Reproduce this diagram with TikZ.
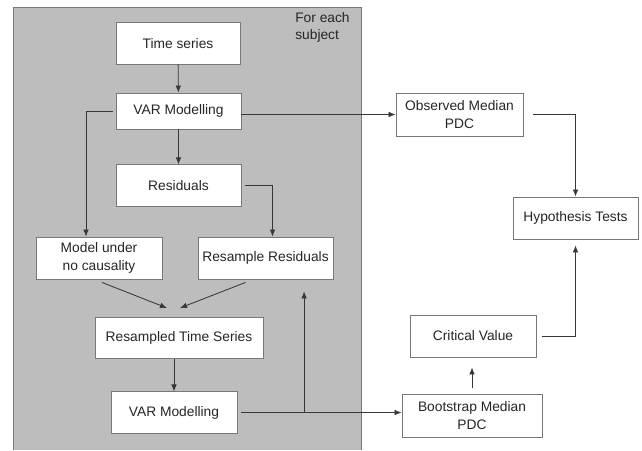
\documentclass[tikz,border=0pt]{standalone}
\usepackage{fontspec}
\setmainfont{Liberation Sans}
\usepackage{tikz}
\usetikzlibrary{arrows.meta,positioning,calc}

\definecolor{panelgray}{RGB}{189,189,189}
\definecolor{boxline}{RGB}{120,120,120}
\definecolor{flowline}{RGB}{55,55,55}

\tikzset{
    block/.style={draw=boxline, fill=white, line width=0.6pt, align=center,
        text=black!85, minimum height=1.03cm, inner sep=2pt,
        font=\fontsize{9.8}{12.4}\selectfont},
    flow/.style={draw=flowline, line width=0.6pt, -{Latex[length=5pt,width=4pt]}}
}

\begin{document}
\begin{tikzpicture}[x=0.025cm,y=-0.025cm]
        \useasboundingbox (0,0) rectangle (642,450);

        %%% Grey panel
        \fill[panelgray] (13,7) rectangle (361,450);
        \draw[boxline, line width=0.6pt] (13,450) -- (13,7) -- (361,7) -- (361,450);
        \node[anchor=north west, align=left, inner sep=0pt, text=black!85,
              font=\fontsize{9.8}{12.4}\selectfont] (forlabel) at (295,12) {For each\\subject};

        % Boxes inside the panel
        \node[block, minimum width=3.1cm] (series) at (178,43.5) {Time series};
        \node[block, minimum width=3.125cm, minimum height=0.9cm] (var1) at (178.5,111) {VAR Modelling};
        \node[block, minimum width=3.125cm] (resid) at (178.5,185.5) {Residuals};
        \node[block, minimum width=3.15cm, minimum height=1.05cm] (nocaus) at (99,258) {Model under\\no causality};
        \node[block, minimum width=3.375cm, minimum height=1.05cm] (resamp) at (265.5,258) {Resample Residuals};
        \node[block, minimum width=4.2cm] (rseries) at (179,338) {Resampled Time Series};
        \node[block, minimum width=3.15cm] (var2) at (174,412.5) {VAR Modelling};

        % Boxes outside the panel
        \node[block, minimum width=3.175cm, minimum height=1.075cm] (observed) at (459.5,114.5) {Observed Median\\PDC};
        \node[block, minimum width=3.125cm, minimum height=1.05cm] (hypo) at (575.5,218) {Hypothesis Tests};
        \node[block, minimum width=3.15cm, minimum height=1.05cm] (critical) at (473,336) {Critical Value};
        \node[block, minimum width=3.5cm, minimum height=1.075cm] (bootstrap) at (472,415.5) {Bootstrap Median\\PDC};

        % Helper points
        \coordinate (mergeL) at ($(rseries.north)+(-12,-9)$);
        \coordinate (mergeR) at ($(rseries.north)+(1,-9)$);
        \coordinate (branch) at ($(var2.east)!0.406!(var2.east -| bootstrap.west)$);

        % Arcs inside the panel
        \draw[flow] (series) -- (var1);
        \draw[flow] (var1) -- (resid);
        \draw[flow, shorten <=0.075cm] (var1.west) -| ($(nocaus.north)+(-13,0)$);
        \draw[flow, shorten <=0.1cm] (resid.east) -| ($(resamp.north)+(7,0)$);
        \draw[flow] ($(nocaus.south)+(3,3)$) -- (mergeL);
        \draw[flow] ($(resamp.south)+(-20,3)$) -- (mergeR);
        \draw[flow] (rseries.south -| var2.north) -- (var2.north);

        % Arcs leaving the panel
        \draw[flow] (var1.east |- observed.west) -- (observed.west);
        \draw[flow, shorten <=0.1cm] (var2.east) -- (var2.east -| bootstrap.west);
        \draw[flow, shorten >=0.3cm] (branch) -- (branch |- resamp.south);

        % Arcs to the tests
        \draw[flow, shorten <=0.15cm, shorten >=0.25cm] (bootstrap.north) -- (bootstrap.north |- critical.south);
        \draw[flow, shorten <=0.15cm, shorten >=0.15cm] (critical.east) -| (hypo.south);
        \draw[flow, shorten <=0.25cm] (observed.east) -| (hypo.north);
    \end{tikzpicture}
\end{document}
